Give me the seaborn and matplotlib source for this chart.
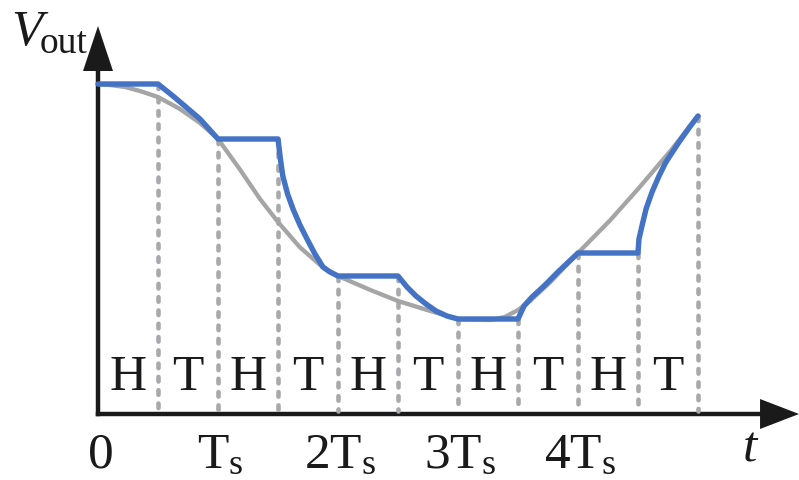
import numpy as np
import pandas as pd
import matplotlib
matplotlib.use("Agg")
import matplotlib.pyplot as plt
import seaborn as sns

# Continuous input waveform (time in units of Ts)
ref_t = [0.0, 0.1, 0.225, 0.35, 0.5, 0.683, 0.85, 1.0, 1.18, 1.35, 1.5, 1.68,
         1.87, 2.0, 2.27, 2.5, 2.77, 3.0, 3.27, 3.39, 3.5, 3.6, 3.77, 4.0,
         4.27, 4.5, 4.77, 5.0]
ref_v = [3.30, 3.29, 3.27, 3.23, 3.17, 3.05, 2.91, 2.75, 2.45, 2.15, 1.92, 1.67,
         1.47, 1.38, 1.24, 1.13, 1.03, 0.95, 0.94, 0.97, 1.04, 1.13, 1.32, 1.61,
         1.94, 2.25, 2.63, 2.98]

# Track-and-hold output
sh_t = [0.0, 0.5, 0.625, 0.733, 0.85, 1.0, 1.5, 1.52, 1.54, 1.58, 1.625, 1.683,
        1.742, 1.808, 1.875, 1.933, 2.0, 2.5, 2.575, 2.65, 2.733, 2.817, 2.908,
        3.0, 3.5, 3.55, 3.617, 3.717, 3.833, 4.0, 4.5, 4.508, 4.533, 4.567,
        4.617, 4.675, 4.733, 4.842, 4.925, 5.0]
sh_v = [3.30, 3.30, 3.18, 3.07, 2.95, 2.75, 2.75, 2.55, 2.38, 2.20, 2.05, 1.89,
        1.75, 1.60, 1.47, 1.42, 1.38, 1.38, 1.27, 1.18, 1.10, 1.03, 0.98,
        0.95, 0.95, 1.08, 1.17, 1.28, 1.42, 1.61, 1.61, 1.75, 1.88, 2.05,
        2.22, 2.38, 2.52, 2.72, 2.86, 2.98]

# Phase boundaries and phase names (H = hold, T = track)
edge_t = [0.5, 1.0, 1.5, 2.0, 2.5, 3.0, 3.5, 4.0, 4.5, 5.0]
phase_labels = ["H", "T", "H", "T", "H", "T", "H", "T", "H", "T"]
phase_mid = [0.25, 0.75, 1.25, 1.75, 2.25, 2.75, 3.25, 3.75, 4.25, 4.75]

tick_pos = [0, 1, 2, 3, 4]
tick_labels = ["0", r"$\mathrm{T_s}$", r"$\mathrm{2T_s}$", r"$\mathrm{3T_s}$",
               r"$\mathrm{4T_s}$"]

sns.set_theme(style="white")
plt.rcParams["font.family"] = ["Liberation Serif", "DejaVu Serif"]
plt.rcParams["mathtext.fontset"] = "custom"
plt.rcParams["mathtext.rm"] = "Liberation Serif"
plt.rcParams["mathtext.it"] = "Liberation Serif:italic"

BLUE = "#4472c4"
GREY = "#a5a5a5"
DASH = "#a9a9ab"
INK = "#1a1a1a"

fig = plt.figure(figsize=(7.99, 4.81), dpi=100)
ax = fig.add_axes([0, 0, 1, 1])

# Coordinate axes with arrow heads
x_end, y_end = 5.842, 3.88
ax.plot([0, x_end - 0.3], [0, 0], color=INK, lw=3.2, solid_capstyle="projecting", zorder=1)
ax.plot([0, 0], [0, y_end - 0.4], color=INK, lw=3.2, solid_capstyle="projecting", zorder=1)
ax.fill([x_end - 0.325, x_end, x_end - 0.325], [0.15, 0, -0.15], color=INK, lw=0, zorder=1)
ax.fill([-0.125, 0, 0.125], [y_end - 0.45, y_end, y_end - 0.45], color=INK, lw=0, zorder=1)

# Phase boundary markers up to the held output level
tops = np.interp(edge_t, sh_t, sh_v)
for xe, top in zip(edge_t, tops):
    ax.plot([xe, xe], [top, 0.03], color=DASH, lw=3.3, linestyle=(0, (1.0, 1.9)),
            dash_capstyle="round", zorder=2)

ref_df = pd.DataFrame({"t": ref_t, "v": ref_v})
sh_df = pd.DataFrame({"t": sh_t, "v": sh_v})
sns.lineplot(data=ref_df, x="t", y="v", ax=ax, color=GREY, lw=3.1,
             estimator=None, sort=False, zorder=3)
sns.lineplot(data=sh_df, x="t", y="v", ax=ax, color=BLUE, lw=3.9,
             estimator=None, sort=False, zorder=4)
ax.set_xlim(-98 / 120, 701 / 120)
ax.set_ylim(-0.66, 4.15)
ax.axis("off")

for xm, lab in zip(phase_mid, phase_labels):
    ax.text(xm, 0.25, lab, ha="center", va="baseline", fontsize=37, color=INK)

for xp, lab in zip(tick_pos, tick_labels):
    ax.text(xp + 0.02, -0.53, lab, ha="center", va="baseline", fontsize=37, color=INK)

ax.text(-0.72, 3.70, "V", style="italic", ha="left", va="baseline", fontsize=37, color=INK)
ax.text(-0.49, 3.62, "out", ha="left", va="baseline", fontsize=27, color=INK)
ax.text(5.43, -0.47, "t", style="italic", ha="center", va="baseline", fontsize=37, color=INK)

fig.savefig("out.png", dpi=100)
